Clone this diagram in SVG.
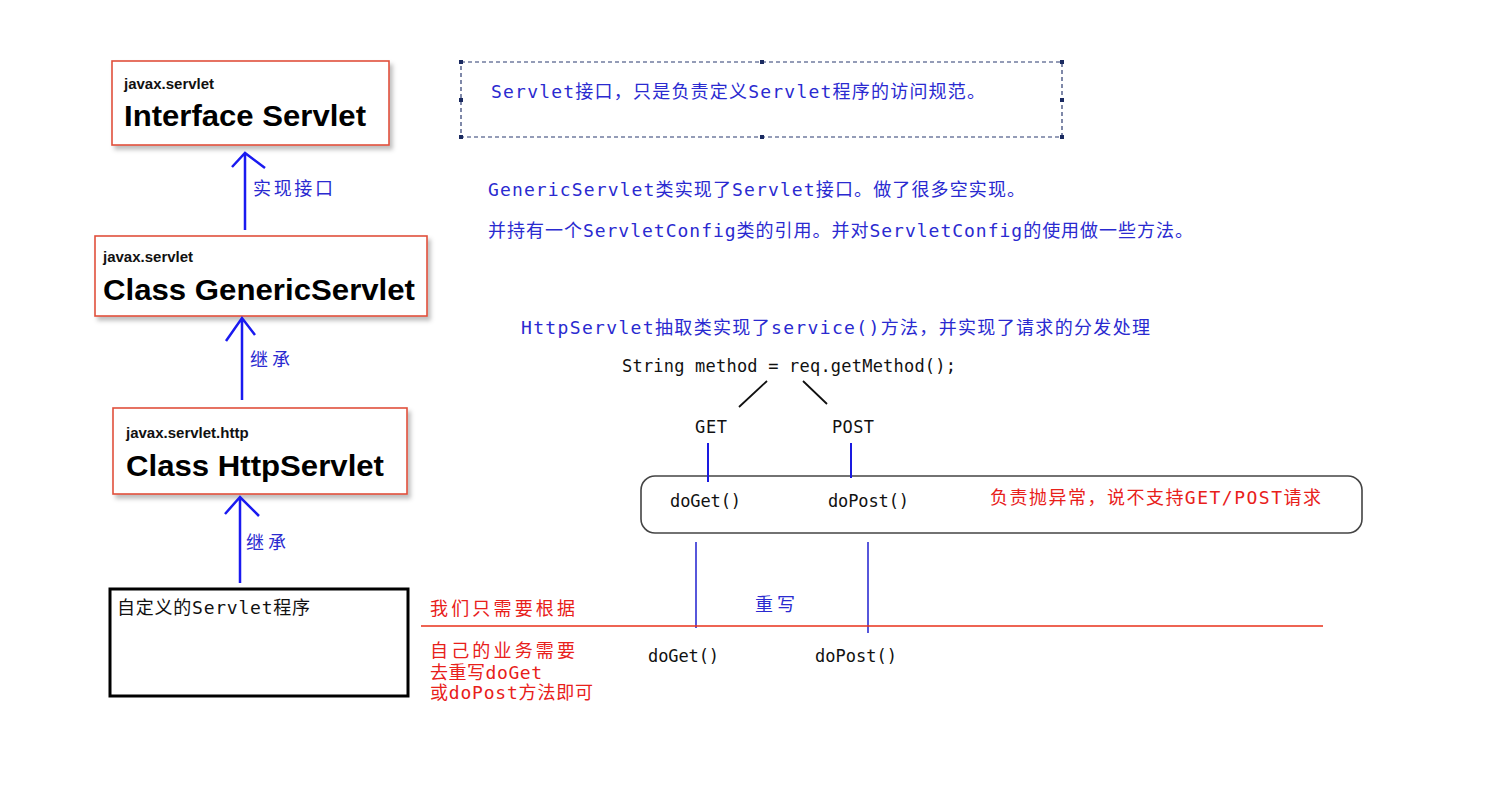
<svg xmlns="http://www.w3.org/2000/svg" width="1504" height="786" viewBox="0 0 1504 786">
<style>
.cls{fill:#fff;stroke:#e0503c;stroke-width:1.6}
.pkg{font-family:"Liberation Sans",Arial,sans-serif;font-weight:bold;font-size:15px;fill:#111}
.big{font-family:"Liberation Sans",Arial,sans-serif;font-weight:bold;font-size:29px;fill:#000}
.cn{font-family:"DejaVu Sans Mono","Noto Sans CJK SC",monospace;font-size:18px}
.blue{fill:#2a2ad0}
.red{fill:#e8201a}
.blk{fill:#111}
.code{font-family:"DejaVu Sans Mono","Noto Sans CJK SC",monospace;font-size:17px;fill:#111}
.arr{stroke:#1a1af0;stroke-width:2.5;fill:none}
.bl{stroke:#1a1ae0;stroke-width:2;fill:none}
.handle{fill:#1a2a60}
</style>
<defs>
<filter id="sh" x="-10%" y="-10%" width="130%" height="140%">
<feDropShadow dx="3" dy="4" stdDeviation="2" flood-color="#000" flood-opacity="0.25"/>
</filter>
</defs>
<rect width="1504" height="786" fill="#fff"/>

<g id="node-servlet">
<rect class="cls" x="112" y="61" width="277" height="84" filter="url(#sh)"/>
<text class="pkg" x="124" y="89">javax.servlet</text>
<text class="big" x="124" y="126" textLength="242" lengthAdjust="spacingAndGlyphs">Interface Servlet</text>
</g>

<g id="node-generic">
<rect class="cls" x="95" y="236" width="332" height="80" filter="url(#sh)"/>
<text class="pkg" x="103" y="262">javax.servlet</text>
<text class="big" x="103" y="300" textLength="312" lengthAdjust="spacingAndGlyphs">Class GenericServlet</text>
</g>

<g id="node-http">
<rect class="cls" x="113" y="408" width="294" height="86" filter="url(#sh)"/>
<text class="pkg" x="126" y="438">javax.servlet.http</text>
<text class="big" x="126" y="476" textLength="258" lengthAdjust="spacingAndGlyphs">Class HttpServlet</text>
</g>

<g id="node-custom">
<rect x="110" y="589" width="298" height="107" fill="#fff" stroke="#000" stroke-width="3"/>
<text class="cn blk" x="117" y="614" textLength="193" lengthAdjust="spacing">自定义的Servlet程序</text>
</g>

<g id="note-servlet">
<rect x="461" y="62" width="601" height="75" fill="none" stroke="#2a3a70" stroke-width="1.2" stroke-dasharray="4,3"/>
<rect class="handle" x="459" y="60" width="4" height="4"/>
<rect class="handle" x="760" y="60" width="4" height="4"/>
<rect class="handle" x="1060" y="60" width="4" height="4"/>
<rect class="handle" x="459" y="98" width="4" height="4"/>
<rect class="handle" x="1060" y="98" width="4" height="4"/>
<rect class="handle" x="459" y="135" width="4" height="4"/>
<rect class="handle" x="760" y="135" width="4" height="4"/>
<rect class="handle" x="1060" y="135" width="4" height="4"/>
<text class="cn blue" x="491" y="98" textLength="494" lengthAdjust="spacing">Servlet接口，只是负责定义Servlet程序的访问规范。</text>
</g>

<g id="note-generic">
<text class="cn blue" x="488" y="196" textLength="537" lengthAdjust="spacing">GenericServlet类实现了Servlet接口。做了很多空实现。</text>
<text class="cn blue" x="488" y="237" textLength="705" lengthAdjust="spacing">并持有一个ServletConfig类的引用。并对ServletConfig的使用做一些方法。</text>
</g>

<g id="note-http">
<text class="cn blue" x="521" y="334" textLength="629" lengthAdjust="spacing">HttpServlet抽取类实现了service()方法，并实现了请求的分发处理</text>
<text class="code" x="622" y="372" textLength="334" lengthAdjust="spacing">String method = req.getMethod();</text>
<text class="code" x="695" y="433" textLength="32" lengthAdjust="spacing">GET</text>
<text class="code" x="832" y="433" textLength="42" lengthAdjust="spacing">POST</text>
</g>

<g id="node-dispatch">
<rect x="641" y="476" width="721" height="57" rx="14" ry="14" fill="#fff" stroke="#444" stroke-width="1.6"/>
<text class="code" x="670" y="507" textLength="71" lengthAdjust="spacing">doGet()</text>
<text class="code" x="828" y="507" textLength="81" lengthAdjust="spacing">doPost()</text>
<text class="cn red" x="990" y="504" textLength="331" lengthAdjust="spacing">负责抛异常，说不支持GET/POST请求</text>
</g>

<g id="note-override">
<text class="cn red" x="430" y="615" textLength="145" lengthAdjust="spacing">我们只需要根据</text>
<text class="cn blue" x="755" y="611" textLength="40" lengthAdjust="spacing">重写</text>
<text class="cn red" x="430" y="657" textLength="145" lengthAdjust="spacing">自己的业务需要</text>
<text class="cn red" x="430" y="679" textLength="112" lengthAdjust="spacing">去重写doGet</text>
<text class="cn red" x="430" y="699" textLength="163" lengthAdjust="spacing">或doPost方法即可</text>
<text class="code" x="648" y="662" textLength="71" lengthAdjust="spacing">doGet()</text>
<text class="code" x="815" y="662" textLength="82" lengthAdjust="spacing">doPost()</text>
</g>

<g id="connectors">
<path class="arr" d="M245 230 V153 M232 167 L245 153 L265 168"/>
<text class="cn blue" x="253" y="195" textLength="80" lengthAdjust="spacing">实现接口</text>
<path class="arr" d="M242 400 V318 M226 341 L242 318 L255 335"/>
<text class="cn blue" x="250" y="366" textLength="40" lengthAdjust="spacing">继承</text>
<path class="arr" d="M240 583 V497 M225 514 L240 497 L259 516"/>
<text class="cn blue" x="246" y="549" textLength="40" lengthAdjust="spacing">继承</text>
<path d="M767 381 L739 407 M803 381 L827 404" stroke="#111" stroke-width="1.8" fill="none"/>
<path class="bl" d="M708 443 V482 M851 443 V478"/>
<path d="M696 542 V628 M868 542 V633" stroke="#2020d0" stroke-width="1.5" fill="none"/>
<path d="M421 626 H1323" stroke="#e8301a" stroke-width="1.3" fill="none"/>
</g>
</svg>
